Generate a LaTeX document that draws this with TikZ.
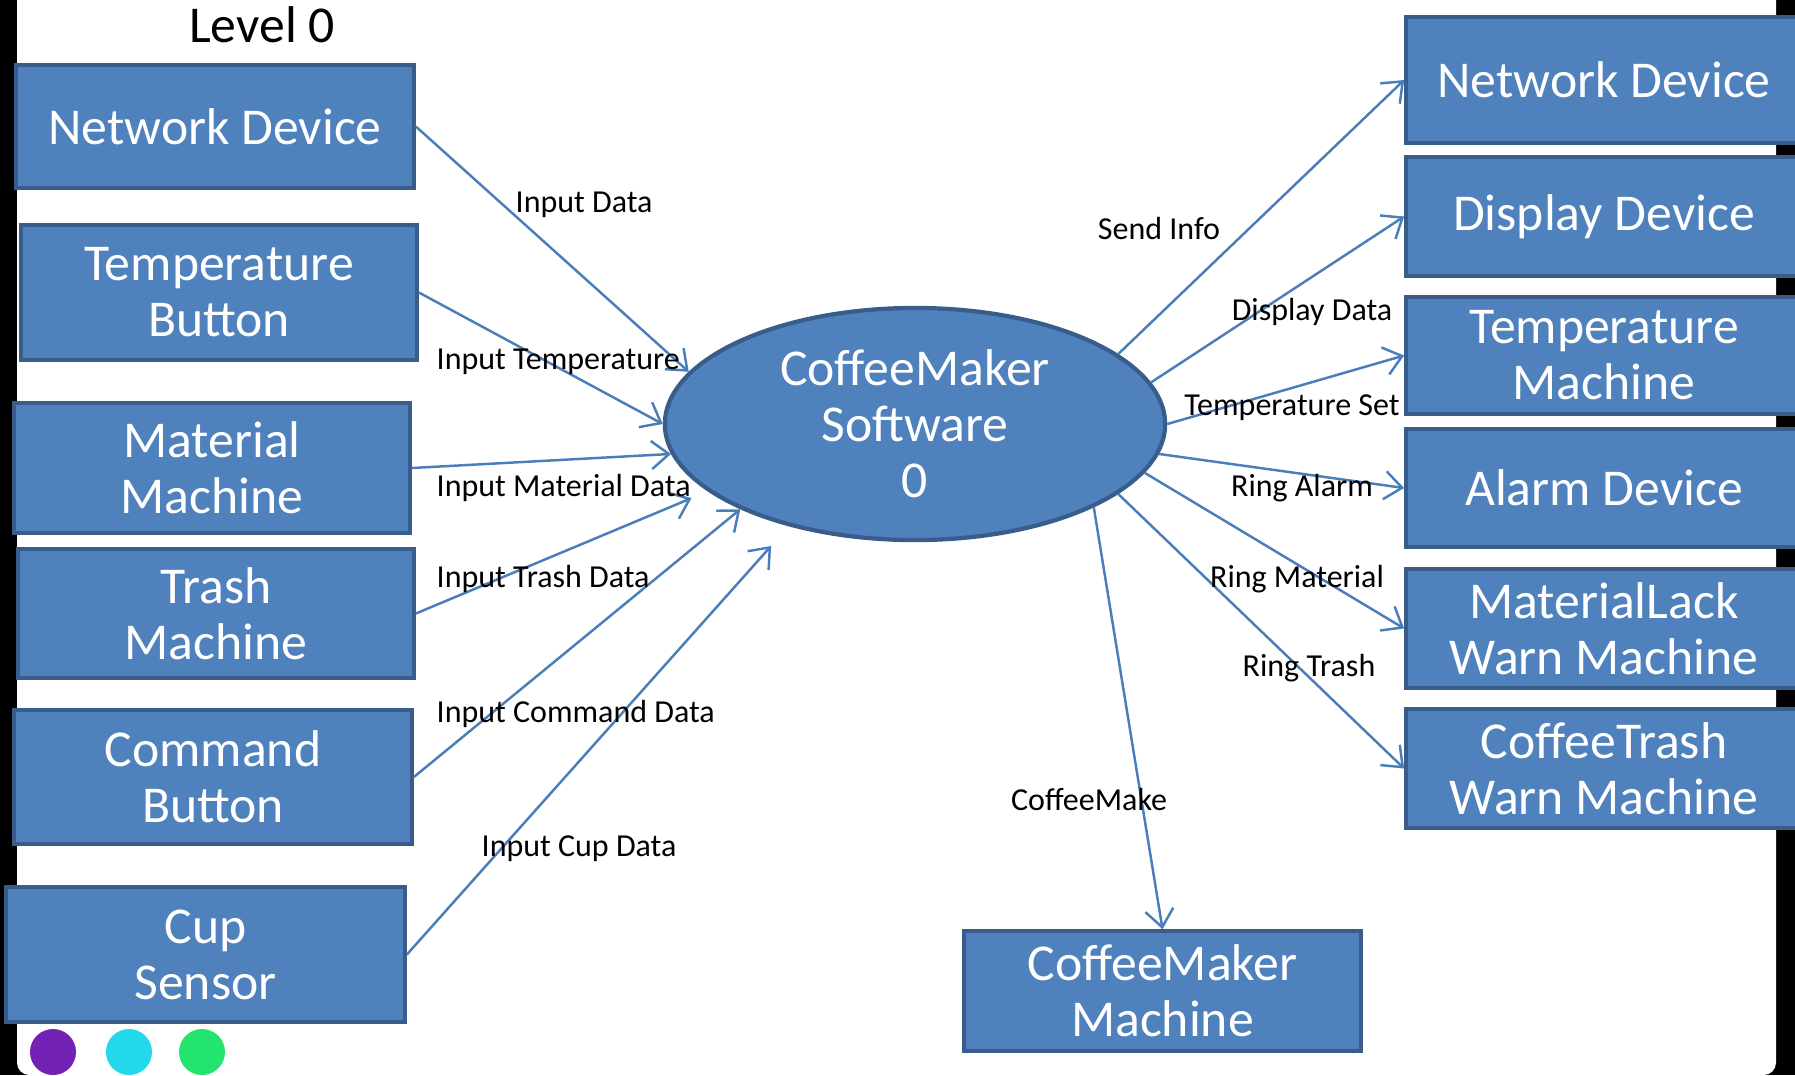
\documentclass[tikz,border=0pt]{standalone}
\usepackage{fontspec}
\setmainfont{Carlito}
\usepackage{tikz}
\usetikzlibrary{arrows.meta,shapes.geometric}
\definecolor{boxblue}{HTML}{4F81BD}
\definecolor{boxline}{HTML}{385D8A}
\definecolor{flowblue}{HTML}{4A7EBB}
\definecolor{dotpurple}{HTML}{7222B4}
\definecolor{dotcyan}{HTML}{22D8EA}
\definecolor{dotgreen}{HTML}{22E46E}

\begin{document}
\begin{tikzpicture}[x=0.01cm,y=-0.01cm,
  entity/.style={draw=boxline,fill=boxblue,line width=1pt,text=white,align=center,
    inner sep=0pt,minimum width=3.96cm,minimum height=1.19cm,
    font=\fontsize{14.7}{15.9}\selectfont},
  process/.style={ellipse,draw=boxline,fill=boxblue,line width=1.2pt,text=white,align=center,
    inner sep=0pt,minimum width=5cm,minimum height=2.32cm,
    font=\fontsize{14.7}{15.9}\selectfont},
  flow/.style={draw=flowblue,line width=0.7pt,-{Straight Barb[length=5pt,width=8pt]}},
  flowlabel/.style={inner sep=0pt,text height=1.38ex,text depth=0pt,font=\fontsize{9.1}{10}\selectfont}]
  \useasboundingbox (0,0) rectangle (1795,1075);
  \fill[black] (0,0) rectangle (1795,1075);
  \fill[white,rounded corners=3.5pt] (17,-30) rectangle (1776,1075);
  \node[inner sep=0pt,text height=1.38ex,text depth=0pt,font=\fontsize{14.7}{15.9}\selectfont] (title) at (262,31) {Level 0};

  % external entities, left
  \node[entity,minimum width=3.98cm,minimum height=1.23cm] (netIn) at (215,126.5) {Network Device};
  \node[entity,minimum height=1.35cm] (tempBtn) at (219,292.5) {Temperature\\Button};
  \node[entity,minimum height=1.30cm] (matMach) at (212,468) {Material\\Machine};
  \node[entity,minimum height=1.29cm] (trashMach) at (216,613.5) {Trash\\Machine};
  \node[entity,minimum width=3.98cm,minimum height=1.34cm] (cmdBtn) at (213,777) {Command\\Button};
  \node[entity,minimum width=3.99cm,minimum height=1.35cm] (cupSens) at (205.5,954.5) {Cup\\Sensor};

  % process
  \node[process] (soft) at (915,424) {CoffeeMaker\\Software\\0};

  % external entities, right
  \node[entity,minimum height=1.26cm] (netOut) at (1604,80) {Network Device};
  \node[entity] (dispDev) at (1604,216.5) {Display Device};
  \node[entity,minimum height=1.17cm] (tempMach) at (1604,355.5) {Temperature\\Machine};
  \node[entity,minimum height=1.18cm] (alarmDev) at (1604,488) {Alarm Device};
  \node[entity] (lackWarn) at (1604,628.5) {MaterialLack\\Warn Machine};
  \node[entity] (trashWarn) at (1604,768.5) {CoffeeTrash\\Warn Machine};
  \node[entity,minimum width=3.97cm,minimum height=1.2cm] (cmMach) at (1162.5,991) {CoffeeMaker\\Machine};
  \fill[dotpurple] (53,1052) circle[radius=0.23cm];
  \fill[dotcyan] (129,1052) circle[radius=0.23cm];
  \fill[dotgreen] (202,1052) circle[radius=0.23cm];

  % data flows in
  \draw[flow] (netIn.east) -- (soft.167);
  \draw[flow] (tempBtn.east) -- (soft.180);
  \draw[flow] (matMach.east) -- (soft.187);
  \draw[flow,shorten >=5pt] (trashMach.east) -- (soft.198);
  \draw[flow] (cmdBtn.east) -- (soft.206);
  \draw[flow,shorten >=7.5pt] (cupSens.east) -- (soft.219);
  % data flows out
  \draw[flow] (soft.19) -- (netOut.west);
  \draw[flow] (soft.10) -- (dispDev.west);
  \draw[flow] (soft.0.5) -- (tempMach.west);
  \draw[flow] (soft.-7.6) -- (alarmDev.west);
  \draw[flow] (soft.-12) -- (lackWarn.west);
  \draw[flow] (soft.-19.3) -- (trashWarn.west);
  \draw[flow] (soft.-25.5) -- (cmMach.north);

  \node[flowlabel,anchor=west] (lInput) at (515,201) {Input Data};
  \node[flowlabel,anchor=west] (lTemp) at (436,358) {Input Temperature};
  \node[flowlabel,anchor=west] (lMat) at (436,485) {Input Material Data};
  \node[flowlabel,anchor=west] (lTrash) at (436,576) {Input Trash Data};
  \node[flowlabel,anchor=west] (lCmd) at (436,711) {Input Command Data};
  \node[flowlabel,anchor=west] (lCup) at (481,845) {Input Cup Data};
  \node[flowlabel] (lSend) at (1159,228) {Send Info};
  \node[flowlabel] (lDisp) at (1312,309) {Display Data};
  \node[flowlabel] (lSet) at (1292,404) {Temperature Set};
  \node[flowlabel] (lAlarm) at (1302,485) {Ring Alarm};
  \node[flowlabel] (lRMat) at (1297,576) {Ring Material};
  \node[flowlabel] (lRTrash) at (1309,665) {Ring Trash};
  \node[flowlabel] (lMake) at (1089,799) {CoffeeMake};
\end{tikzpicture}
\end{document}
